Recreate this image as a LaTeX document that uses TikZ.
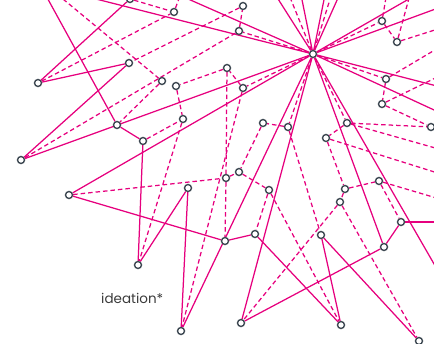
\documentclass[tikz,border=0pt]{standalone}
\usepackage{fontspec}
\setmainfont{Poppins}
\usetikzlibrary{positioning, backgrounds}
\definecolor{magentaLine}{HTML}{E6007E}
\definecolor{slateNode}{HTML}{3D4852}
\definecolor{labelGrey}{HTML}{3A3A3A}

\begin{document}
\begin{tikzpicture}[x=1pt, y=-1pt]
  \tikzset{dot/.style={circle, draw=slateNode, fill=white, line width=1.4pt, minimum size=7pt, inner sep=0pt},
    tie/.style={draw=magentaLine, line width=1.25pt},
    weak/.style={tie, dash pattern=on 4.5pt off 3pt}}
  \useasboundingbox (0,0) rectangle (434,344);
  % hub and the nodes round it
  \node[dot] (hub) at (313,54) {};
  \node[dot] (n1) at (130,-1) {};
  \node[dot] (n2) at (174,12) {};
  \node[dot] (n3) at (243,6) {};
  \node[dot] (n4) at (239,31) {};
  \node[dot] (n5) at (382,21) {};
  \node[dot] (n6) at (397,42) {};
  \node[dot] (n7) at (38,83) {};
  \node[dot] (n8) at (129,63) {};
  \node[dot] (n9) at (162,81) {};
  \node[dot] (n10) at (176,86) {};
  \node[dot] (n11) at (227,68) {};
  \node[dot] (n12) at (243,88) {};
  \node[dot] (n13) at (386,79) {};
  \node[dot] (n14) at (382,104) {};
  \node[dot] (n15) at (117,125) {};
  \node[dot] (n16) at (143,141) {};
  \node[dot] (n17) at (183,119) {};
  \node[dot] (n18) at (263,123) {};
  \node[dot] (n19) at (288,127) {};
  \node[dot] (n20) at (347,123) {};
  \node[dot] (n21) at (326,138) {};
  \node[dot] (n22) at (431,127) {};
  \node[dot] (n23) at (21,160) {};
  \node[dot] (n24) at (69,195) {};
  \node[dot] (n25) at (188,188) {};
  \node[dot] (n26) at (239,172) {};
  \node[dot] (n27) at (226,178) {};
  \node[dot] (n28) at (269,190) {};
  \node[dot] (n29) at (345,189) {};
  \node[dot] (n30) at (379,181) {};
  \node[dot] (n31) at (340,202) {};
  \node[dot] (n32) at (401,222) {};
  \node[dot] (n33) at (225,241) {};
  \node[dot] (n34) at (255,234) {};
  \node[dot] (n35) at (321,235) {};
  \node[dot] (n36) at (384,247) {};
  \node[dot] (n37) at (138,265) {};
  \node[dot] (n38) at (181,331) {};
  \node[dot] (n39) at (241,323) {};
  \node[dot] (n40) at (341,325) {};
  \node[dot] (n41) at (419,341) {};
  % far ends outside the frame
  \coordinate (o1) at (460,309);
  \coordinate (o2) at (21,-20);
  \coordinate (o3) at (145,-20);
  \coordinate (o4) at (266,-20);
  \coordinate (o5) at (298,-20);
  \coordinate (o6) at (328,-20);
  \coordinate (o7) at (346,-20);
  \coordinate (o8) at (442,-20);
  \coordinate (o9) at (460,0);
  \coordinate (o10) at (460,92);
  \coordinate (o11) at (460,122);
  \coordinate (o12) at (44,-8);
  \coordinate (o13) at (460,222);
  \coordinate (d1) at (283,-20);
  \coordinate (d2) at (336,-20);
  \coordinate (d3) at (389,-20);
  \coordinate (d4) at (414,-20);
  \coordinate (d5) at (460,22);
  \coordinate (d6) at (460,66);
  \coordinate (d7) at (460,35);
  \coordinate (d8) at (460,155);
  \coordinate (d9) at (460,180);
  \coordinate (d10) at (460,205);
  \coordinate (d11) at (186,-20);
  \coordinate (d12) at (40,-20);
  \node[anchor=base west, font=\fontsize{13.5}{16}\selectfont, text=labelGrey, inner sep=0pt] (tag) at (101,304) {ideation*};

  \begin{scope}[on background layer]
    % spokes of the hub
    \foreach \t in {n23,n24,n38,n39,n36,o1,o2,o3,o4,o5,o6,o7,o8,o9,o10,o11}
      \draw[tie] (hub) -- (\t);
    \foreach \t in {n4,n12,n5,n13,n19,n20,d1,d2}
      \draw[weak] (hub) -- (\t);
    % solid links
    \foreach \a/\b in {n7/n1, n7/n8, n23/n8, o12/n15, n15/n16, n16/n37, n37/n25, n25/n38,
      n24/n33, n33/n34, n34/n40, n35/n40, n35/n41, n39/n36, n36/n32, n32/o13}
      \draw[tie] (\a) -- (\b);
    % dashed links
    \foreach \a/\b in {n4/n3, n12/n11, n19/n18, n20/n21, n13/n14, n5/n6,
      n3/n8, n4/n23, n11/n10, n11/n27, n12/n38, n18/n26, n19/n35,
      n20/d8, n21/n29, n21/d9, n13/d7, n14/d6, n14/n22, n5/d3, n6/d4, n6/d5,
      n1/n2, n7/n2, n2/d11, d12/n9, n9/n15, n10/n17, n16/n17, n17/n37,
      n24/n27, n27/n26, n26/n28, n28/n34, n28/n40, n27/n33,
      n29/n30, n29/n31, n31/n39, n31/n41, n30/n32, n30/d10, n20/n22}
      \draw[weak] (\a) -- (\b);
  \end{scope}
\end{tikzpicture}
\end{document}
